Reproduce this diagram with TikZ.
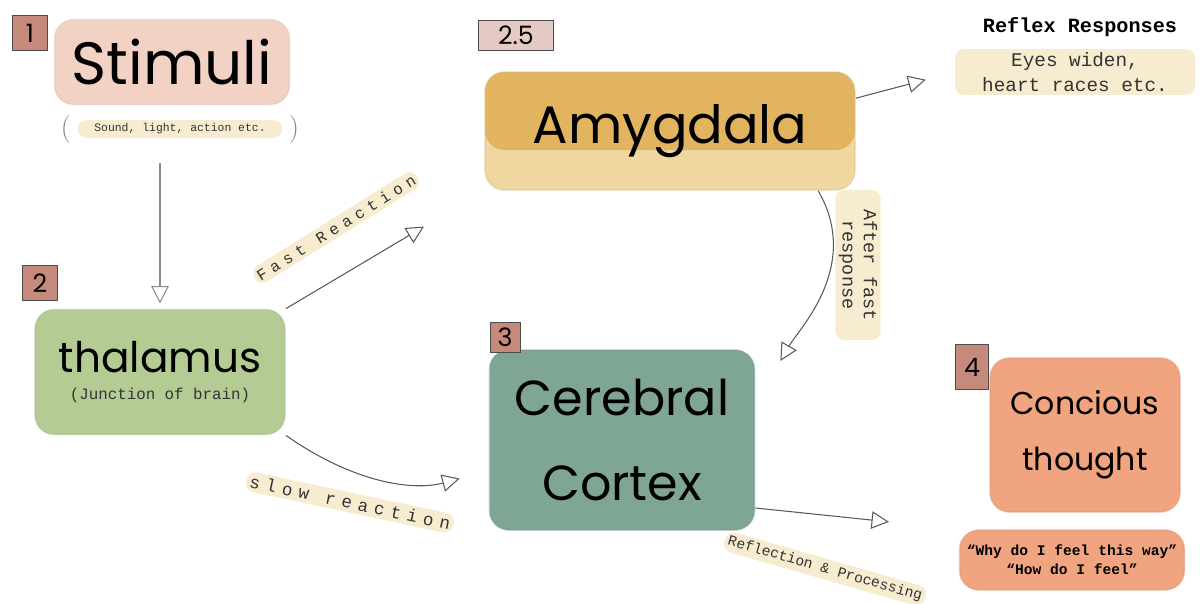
\documentclass[tikz,border=0pt]{standalone}
\usepackage{fontspec}
\setmonofont{Liberation Mono}
\newfontfamily\hand{Poppins}
\newfontfamily\spaced[LetterSpace=35]{Liberation Mono}
\usetikzlibrary{arrows.meta,positioning,calc}
\definecolor{stim}{RGB}{243,210,198}
\definecolor{thal}{RGB}{180,204,148}
\definecolor{amy}{RGB}{226,180,96}
\definecolor{amylt}{RGB}{240,215,160}
\definecolor{cort}{RGB}{127,166,148}
\definecolor{conc}{RGB}{240,165,128}
\definecolor{bdg}{RGB}{198,138,124}
\definecolor{crm}{RGB}{247,236,208}
\definecolor{ink}{RGB}{51,51,51}
\tikzset{
    blob/.style={fill=#1,draw=#1!88!black,draw opacity=0.35,line width=1pt,rounded corners=11pt,inner sep=0pt,font=\hand},
    badge/.style={draw=black!70,fill=bdg,line width=0.5pt,inner sep=0pt,minimum width=0.7cm,minimum height=0.7cm,font=\hand\Large},
    note/.style={fill=crm,rounded corners=5pt,inner sep=2pt,text=ink,font=\ttfamily},
    parr/.style={-{Triangle[open,length=3.5mm,width=3.5mm]},line width=0.6pt,black!65},
}

\begin{document}
\begin{tikzpicture}
\useasboundingbox (0,0) rectangle (24.02,-12.06);
% stage 1
\node[blob=stim,minimum width=4.7cm,minimum height=1.7cm,font=\hand\fontsize{34}{36}\selectfont] (stim) at (3.44,-1.24) {Stimuli};
\node[badge] (b1) at (0.6,-0.66) {1};
\node[note,minimum width=4.1cm,font=\ttfamily\fontsize{6.5}{8}\selectfont,
      label={[black!50,font=\fontsize{16}{16}\selectfont,label distance=0pt]left:(},
      label={[black!50,font=\fontsize{16}{16}\selectfont,label distance=0pt]right:)}] (sound) at (3.6,-2.58) {Sound, light, action etc.};
% stage 2
\node[blob=thal,minimum width=5cm,minimum height=2.5cm,align=center] (thal) at (3.2,-7.44) {{\fontsize{24}{26}\selectfont thalamus}\\[3pt]{\ttfamily\fontsize{9}{10}\selectfont\color{ink}(Junction of brain)}};
\node[badge] (b2) at (0.8,-5.66) {2};
% stage 2.5
\node[blob=amylt,minimum width=7.4cm,minimum height=2.36cm,font=\hand\fontsize{30}{32}\selectfont,
      path picture={\fill[amy] (path picture bounding box.north west) rectangle ([yshift=0.8cm]path picture bounding box.south east);}] (amyg) at (13.4,-2.62) {Amygdala};
\node[badge,fill=bdg!45,minimum width=1.5cm,minimum height=0.6cm] (b25) at (10.32,-0.7) {2.5};
\node[font=\ttfamily\bfseries\fontsize{11.5}{13}\selectfont] (reflex) at (21.6,-0.54) {Reflex Responses};
\node[note,align=center,font=\ttfamily\fontsize{11}{14}\selectfont,minimum width=4.8cm] (eyes) at (21.5,-1.44) {Eyes widen,\\heart races etc.};
\node[note,rotate=-90,align=center,font=\ttfamily\fontsize{10.5}{12}\selectfont,minimum width=3cm] (after) at (17.16,-5.3) {After fast\\response};
% stage 3
\node[blob=cort,minimum width=5.3cm,minimum height=3.6cm,align=center,font=\hand\fontsize{28}{48}\selectfont] (cort) at (12.44,-8.8) {Cerebral\\Cortex};
\node[badge,minimum width=0.6cm,minimum height=0.6cm] (b3) at (10.1,-6.75) {3};
% stage 4
\node[blob=conc,minimum width=3.8cm,minimum height=3.08cm,align=center,font=\hand\fontsize{18}{32}\selectfont] (conc) at (21.7,-8.7) {Concious\\thought};
\node[badge,minimum width=0.66cm,minimum height=0.9cm] (b4) at (19.44,-7.34) {4};
\node[blob=conc,minimum width=4.5cm,minimum height=1.2cm,align=center,font=\ttfamily\bfseries\fontsize{8.3}{11}\selectfont] (why) at (21.44,-11.2) {“Why do I feel this way”\\“How do I feel”};
% path labels
\node[note,rotate=32,font=\spaced\fontsize{9}{10}\selectfont] (fast) at (6.72,-4.55) {Fast Reaction};
\node[note,rotate=-12,font=\spaced\fontsize{10}{11}\selectfont] (slow) at (7.0,-10.05) {slow reaction};
\node[note,rotate=-16,font=\ttfamily\fontsize{8.3}{10}\selectfont] (refl) at (16.5,-11.38) {Reflection \& Processing};
% connectors
\draw[parr,black!45,shorten <=0.5cm,shorten >=0.1cm] (thal.north |- sound.south) -- (thal.north);
\draw[parr,shorten >=1.4cm] (thal.north east) -- (amyg.south west);
\draw[parr,shorten >=0.6cm] (thal.south east) to[out=-35,in=195] (cort.193);
\draw[parr,shorten >=0.6cm] (amyg.10) -- (eyes.west);
\draw[parr,shorten >=1cm] (amyg.-22) to[out=-60,in=60] (cort.15);
\draw[parr,shorten >=1.4cm] (cort.-27) -- (why.north west);
\end{tikzpicture}
\end{document}
